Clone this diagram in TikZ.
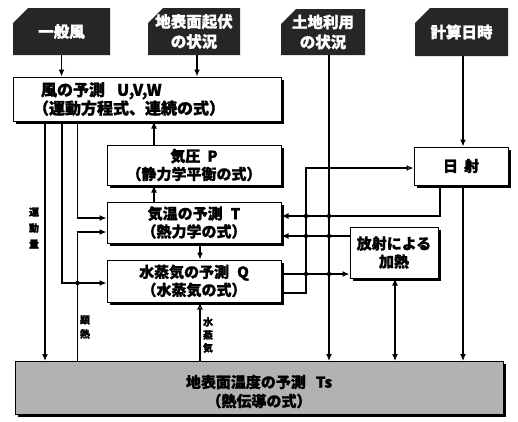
\documentclass[tikz,border=0pt]{standalone}
\usepackage{fontspec}
\newfontfamily\jp{Noto Sans CJK JP}[BoldFeatures={FakeBold=1.2}]
\usetikzlibrary{arrows.meta,shadows,calc}
\begin{document}
\begin{tikzpicture}[x=1pt,y=-1pt,
  every node/.style={font=\jp\bfseries\fontsize{15}{18}\selectfont},
  box/.style={draw, line width=1pt, fill=white, inner sep=0pt, align=center,
    drop shadow={shadow xshift=2.5pt,shadow yshift=-2.5pt,fill=black,opacity=1}},
  hdr/.style={inner sep=0pt, align=center, text=white,
    font=\jp\bfseries\fontsize{15.5}{20}\selectfont,
    path picture={\fill[black!85] (path picture bounding box.south west) -- (path picture bounding box.south east) -- (path picture bounding box.north east) -- ([xshift=15pt]path picture bounding box.north west) -- ([yshift=-15pt]path picture bounding box.north west) -- cycle;}},
  arr/.style={line width=1.3pt, -{Latex[length=7pt,width=6pt]}},
  oarr/.style={line width=1.3pt, -{Latex[open,length=7pt,width=6pt]}},
  dbl/.style={line width=1.3pt, {Latex[length=7pt,width=6pt]}-{Latex[length=7pt,width=6pt]}},
  dot/.style={circle, fill=black, inner sep=0pt, minimum size=4.5pt},
  lbl/.style={font=\jp\bfseries\fontsize{10}{14}\selectfont, align=center, inner sep=0pt}
]
\useasboundingbox (0,0) rectangle (518,421);

% header boxes
\node[hdr, minimum width=97, minimum height=47] (h1) at (61.5,31.5) {一般風};
\node[hdr, minimum width=92, minimum height=47] (h2) at (194,31.5) {地表面起伏\\の状況};
\node[hdr, minimum width=84, minimum height=46] (h3) at (323,32) {土地利用\\の状況};
\node[hdr, minimum width=93, minimum height=48] (h4) at (461.5,32) {計算日時};

% main boxes
\node[box, minimum width=268, minimum height=44, text width=228, align=left, inner xsep=20pt,
      font=\jp\bfseries\fontsize{16}{17}\selectfont] (wind) at (147,99)
  {\hspace*{8pt}風の予測\hspace{12pt}U,V,W\\（運動方程式、連続の式）};
\node[box, minimum width=174, minimum height=40] (pres) at (194,165) {気圧\hspace{7pt}P\\（静力学平衡の式）};
\node[box, minimum width=174, minimum height=41] (temp) at (194,222.5) {気温の予測\hspace{8pt}T\\（熱力学の式）};
\node[box, minimum width=174, minimum height=42] (vap) at (194,281) {水蒸気の予測\hspace{8pt}Q\\（水蒸気の式）};
\node[box, minimum width=94, minimum height=38] (sun) at (461,166) {日\hspace{6pt}射};
\node[box, minimum width=88, minimum height=51] (rad) at (394,252.5) {放射による\\加熱};
\node[box, fill=black!30, minimum width=488, minimum height=53,
      font=\jp\bfseries\fontsize{15}{19}\selectfont] (ground) at (259,388)
  {\rule{0pt}{20pt}地表面温度の予測\hspace{10pt}Ts\\（熱伝導の式）};

% lanes
\coordinate (xA) at (45,0);
\coordinate (xB) at (62,0);
\coordinate (xC) at (77.5,0);
\coordinate (xH) at (197,0);
\coordinate (xP) at (154,0);
\coordinate (xV) at (200,0);
\coordinate (xS) at (306,0);
\coordinate (xL) at (329,0);
\coordinate (xR) at (395,0);
\coordinate (xD) at (440,0);
\coordinate (xT) at (463,0);
\coordinate (yT1) at (0,218);
\coordinate (yT2) at (0,232);
\coordinate (yV1) at (0,283);
\coordinate (yS) at (0,168);
\coordinate (yT3) at (0,216);
\coordinate (yT4) at (0,236);
\coordinate (yV2) at (0,274);
\coordinate (yV3) at (0,293);

% connectors
\draw[arr] (h1.south) -- (h1.south |- wind.north);
\draw[arr] (h2.south -| xH) -- (wind.north -| xH);
\draw[arr] (h3.south -| xL) -- (ground.north -| xL);
\draw[arr] (h4.south -| xT) -- (sun.north -| xT);
\draw[arr] (wind.south -| xA) -- (ground.north -| xA);
\draw[arr] (wind.south -| xB) -- (xB |- yV1) -- (vap.west |- yV1);
\draw[arr] (wind.south -| xC) -- (xC |- yT1) -- (temp.west |- yT1);
\draw[arr] (ground.north -| xC) -- (xC |- yT2) -- (temp.west |- yT2);
\draw[arr] (pres.north -| xP) -- (wind.south -| xP);
\draw[arr] (temp.north -| xP) -- (pres.south -| xP);
\draw[arr] (temp.south -| xV) -- (vap.north -| xV);
\draw[oarr] (ground.north -| xV) -- (vap.south -| xV);
\draw[oarr] (vap.east |- yV3) -- (xS |- yV3) -- (xS |- yS) -- (sun.west |- yS);
\draw[arr] (sun.south -| xD) -- (xD |- yT3) -- (temp.east |- yT3);
\draw[arr] (rad.west |- yT4) -- (temp.east |- yT4);
\draw[arr] (vap.east |- yV2) -- (rad.west |- yV2);
\draw[dbl] (rad.south -| xR) -- (ground.north -| xR);
\draw[arr] (sun.south -| xT) -- (ground.north -| xT);

% junction dots
\node[dot] (d1) at (xS |- yT3) {};
\node[dot] (d2) at (xL |- yT3) {};
\node[dot] (d3) at (xS |- yT4) {};
\node[dot] (d4) at (xL |- yT4) {};
\node[dot] (d5) at (xS |- yV2) {};
\node[dot] (d6) at (xL |- yV2) {};
\node[dot] (d7) at (xC |- yV1) {};

% labels
\node[lbl, font=\jp\bfseries\fontsize{10}{16}\selectfont] (l1) at (34,228) {運\\動\\量};
\node[lbl] (l2) at (85,327) {顕\\熱};
\node[lbl, font=\jp\bfseries\fontsize{10}{13}\selectfont] (l3) at (208,335) {水\\蒸\\気};
\end{tikzpicture}
\end{document}
